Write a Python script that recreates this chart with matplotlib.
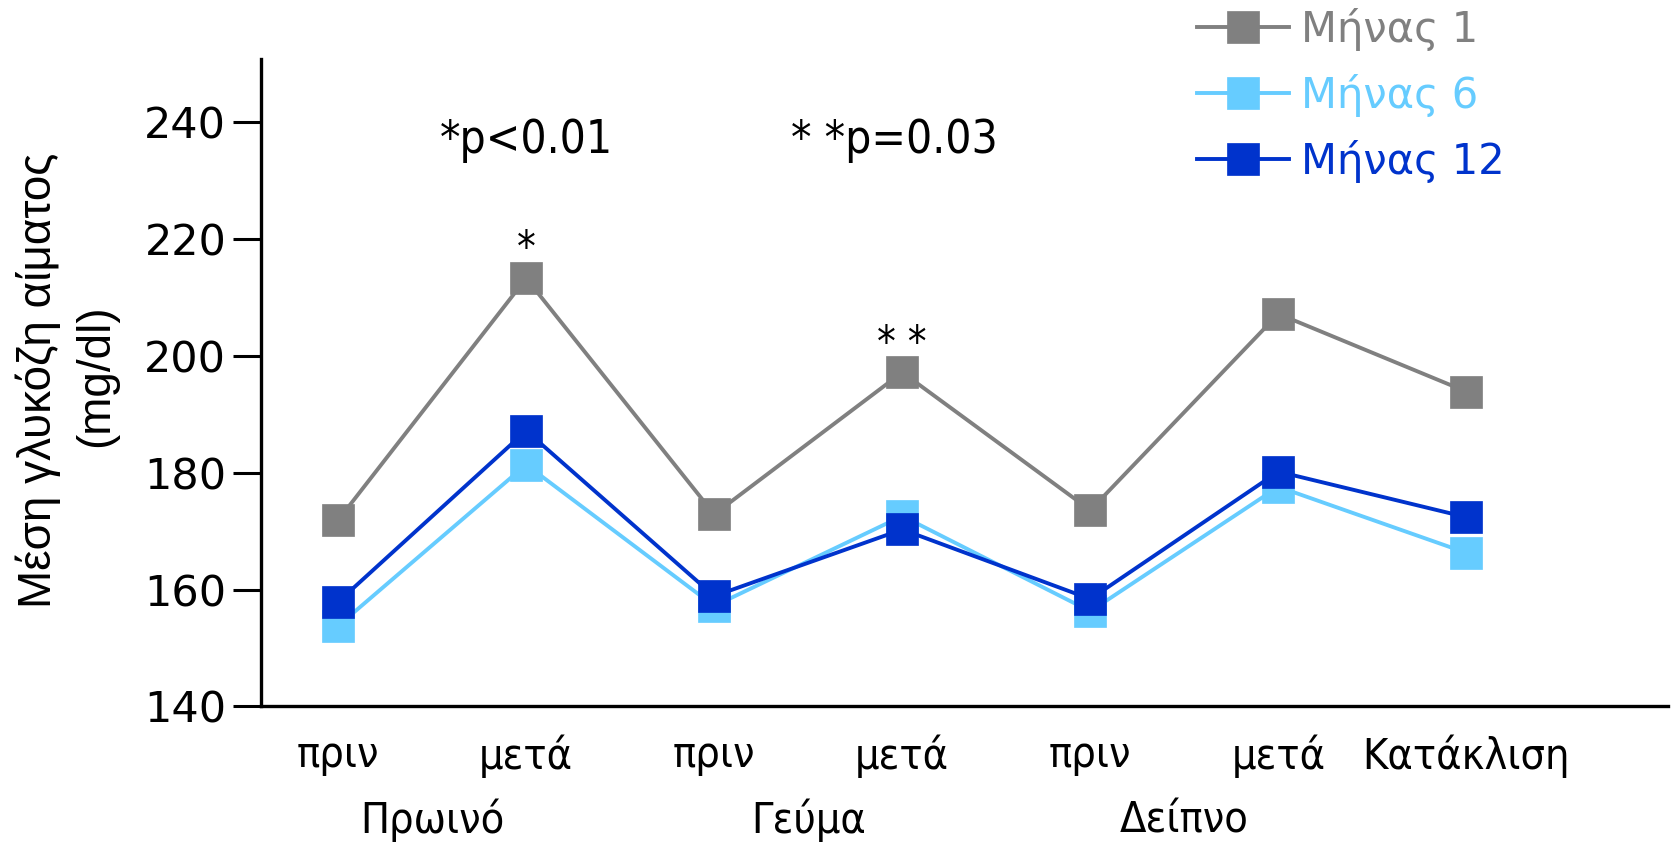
import matplotlib
matplotlib.use("Agg")
import matplotlib.pyplot as plt
from matplotlib import font_manager

# data
points = ["πριν", "μετά", "πριν", "μετά", "πριν", "μετά", "Κατάκλιση"]
meals = ["Πρωινό", "Γεύμα", "Δείπνο"]
month1 = [171.9, 213.3, 172.9, 197.2, 173.6, 207.2, 193.9]
month6 = [153.8, 181.4, 157.2, 172.6, 156.3, 177.6, 166.3]
month12 = [157.9, 187.2, 158.9, 170.3, 158.4, 180.2, 172.4]
series_labels = ["Μήνας 1", "Μήνας 6", "Μήνας 12"]
series_colors = ["#808080", "#66CCFF", "#0033CC"]

narrow = font_manager.FontProperties(family="DejaVu Sans", stretch="condensed")

fig = plt.figure(figsize=(16.71, 8.46), dpi=100)
ax = fig.add_axes([0.1562, 0.1649, 0.998 - 0.1562, 0.9307 - 0.1649])

x = list(range(len(points)))
for vals, lab, col in zip([month1, month6, month12], series_labels, series_colors):
    ax.plot(x, vals, color=col, lw=2.8, marker="s", markersize=23,
            markerfacecolor=col, markeredgecolor=col, markeredgewidth=0.5, label=lab)

ax.set_xlim(-0.41, 7.07)
ax.set_ylim(140, 250.9)
ax.set_yticks([140, 160, 180, 200, 220, 240])
ax.tick_params(axis="y", length=20, width=2.2, pad=5, labelsize=31)
ax.set_xticks(x)
ax.set_xticklabels(points, fontproperties=narrow, fontsize=31)
ax.tick_params(axis="x", length=0, pad=20)

for s in ["top", "right"]:
    ax.spines[s].set_visible(False)
for s in ["left", "bottom"]:
    ax.spines[s].set_linewidth(2.4)

# meal group labels under the tick labels
trans = matplotlib.transforms.blended_transform_factory(ax.transData, fig.transFigure)
for i, m in enumerate(meals):
    ax.text(2 * i + 0.5, 1 - 820 / 846, m, transform=trans, ha="center", va="center",
            fontproperties=narrow, fontsize=31)

# significance notes
ax.text(1, 236.8, "*p<0.01", ha="center", va="center", fontproperties=narrow, fontsize=33)
ax.text(2.96, 236.8, "* *p=0.03", ha="center", va="center", fontproperties=narrow, fontsize=33)
ax.text(1, 218.3, "*", ha="center", va="center", fontproperties=narrow, fontsize=30)
ax.text(3, 202.0, "* *", ha="center", va="center", fontproperties=narrow, fontsize=30)

# y label, two lines
fig.text(38 / 1671, 1 - 380 / 846, "Μέση γλυκόζη αίματος", rotation=90,
         ha="center", va="center", fontsize=33, family="Liberation Sans")
fig.text(96 / 1671, 1 - 376 / 846, "(mg/dl)", rotation=90,
         ha="center", va="center", fontsize=33, family="Liberation Sans")

leg = ax.legend(loc="upper left", bbox_to_anchor=(1197 / 1671, 1 - 8 / 846),
                bbox_transform=fig.transFigure, frameon=False,
                handlelength=2.2, handletextpad=0.3, labelspacing=0.55,
                borderpad=0, borderaxespad=0, labelcolor="linecolor",
                prop={"family": "DejaVu Sans", "size": 30})

fig.savefig("out.png", dpi=100)
